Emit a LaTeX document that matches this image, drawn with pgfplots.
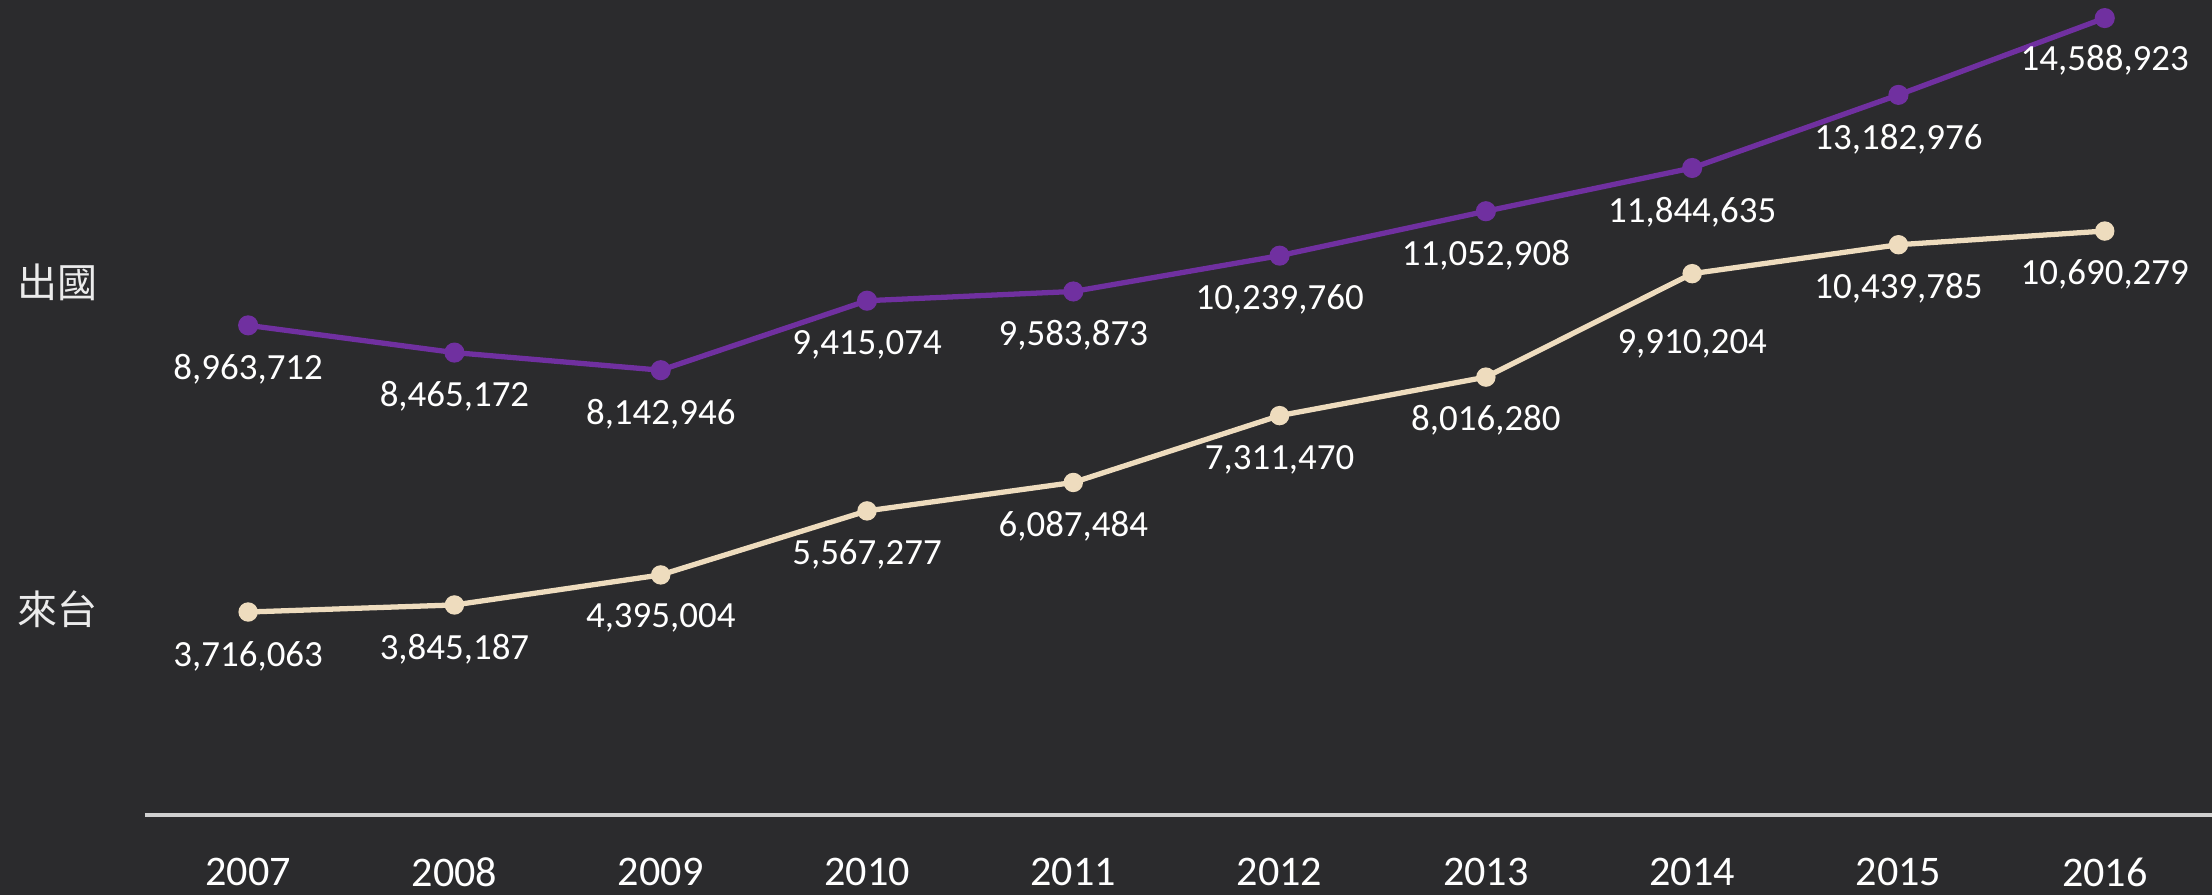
\documentclass[border=0pt]{standalone}
\usepackage{pgfplots}
\pgfplotsset{compat=1.18}
\usepackage{pgfplotstable}
\usepackage{fontspec}
\setmainfont{Carlito}
\newfontfamily\cjk{Noto Sans CJK TC}

\definecolor{bg}{HTML}{2B2B2D}
\definecolor{chuguo}{HTML}{7030A0}
\definecolor{laitai}{HTML}{EEDCBE}
\definecolor{axisgray}{HTML}{D0D0D0}

% x = 0..9 for 2007..2016, off = label offset below the point (cm)
\pgfplotstableread{
x y label off
0 8963712 8,963,712 -0.44
1 8465172 8,465,172 -0.44
2 8142946 8,142,946 -0.44
3 9415074 9,415,074 -0.44
4 9583873 9,583,873 -0.44
5 10239760 10,239,760 -0.44
6 11052908 11,052,908 -0.44
7 11844635 11,844,635 -0.44
8 13182976 13,182,976 -0.44
9 14588923 14,588,923 -0.42
}\chuguo

\pgfplotstableread{
x y label off
0 3716063 3,716,063 -0.44
1 3845187 3,845,187 -0.44
2 4395004 4,395,004 -0.43
3 5567277 5,567,277 -0.44
4 6087484 6,087,484 -0.44
5 7311470 7,311,470 -0.44
6 8016280 8,016,280 -0.43
7 9910204 9,910,204 -0.70
8 10439785 10,439,785 -0.44
9 10690279 10,690,279 -0.43
}\laitai

\begin{document}
\begin{tikzpicture}
\fill[bg] (-1.45cm,-0.80cm) rectangle (20.67cm,8.15cm);
\begin{axis}[
    scale only axis,
    width=20.67cm, height=8.15cm,
    xmin=-0.5, xmax=9.52,
    ymin=0, ymax=14.92e6,
    axis x line*=bottom,
    axis y line=none,
    x axis line style={axisgray, line width=1.2pt, -},
    xtick={0,...,9},
    xticklabels={2007,2008,2009,2010,2011,2012,2013,2014,2015,2016},
    major tick length=0pt,
    x tick label style={anchor=center, yshift=-0.57cm, text=white,
        font=\fontsize{12}{14}\selectfont},
    clip=false,
    point meta=explicit symbolic,
    nodes near coords,
    visualization depends on={\thisrow{off} \as \off},
    every node near coord/.style={anchor=center, yshift=\off cm, text=white,
        font=\fontsize{10.5}{12}\selectfont},
]
\addplot[chuguo, line width=1.5pt, mark=*, mark size=2.1pt,
    mark options={fill=chuguo, draw=chuguo}]
    table[x=x, y=y, meta=label] {\chuguo};
\addplot[laitai, line width=1.5pt, mark=*, mark size=2pt,
    mark options={fill=laitai, draw=laitai}]
    table[x=x, y=y, meta=label] {\laitai};
\end{axis}
\node[anchor=west, inner sep=0pt, text=white!92!black,
    font=\cjk\fontsize{11.4}{13}\selectfont] at (-1.28cm,5.33cm) {出國};
\node[anchor=west, inner sep=0pt, text=white!92!black,
    font=\cjk\fontsize{11.4}{13}\selectfont] at (-1.28cm,2.06cm) {來台};
\pgfresetboundingbox
\path[use as bounding box] (-1.45cm,-0.80cm) rectangle (20.67cm,8.15cm);
\end{tikzpicture}
\end{document}
